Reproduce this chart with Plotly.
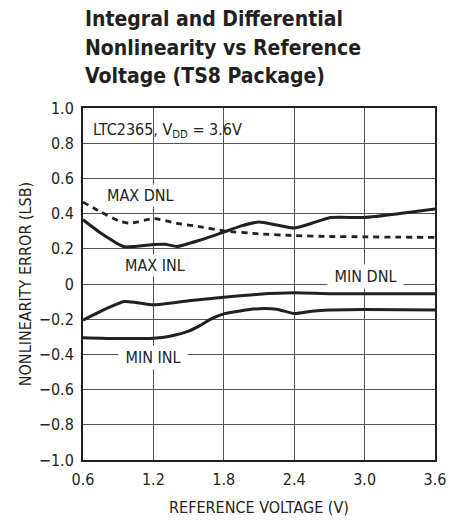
import plotly.graph_objects as go

# ---- data ----
max_dnl_x = [0.6, 0.75, 0.9, 1.0, 1.2, 1.4, 1.6, 1.8, 2.1, 2.4, 2.7, 3.0, 3.3, 3.6]
max_dnl_y = [0.465, 0.41, 0.36, 0.345, 0.372, 0.345, 0.325, 0.302, 0.285, 0.275, 0.27, 0.268, 0.266, 0.265]

max_inl_x = [0.6, 0.75, 0.95, 1.2, 1.3, 1.4, 1.6, 1.8, 1.95, 2.1, 2.25, 2.4, 2.55, 2.7, 3.0, 3.3, 3.6]
max_inl_y = [0.365, 0.29, 0.212, 0.225, 0.226, 0.213, 0.25, 0.295, 0.33, 0.352, 0.335, 0.318, 0.345, 0.377, 0.378, 0.40, 0.426]

min_dnl_x = [0.6, 0.8, 0.95, 1.05, 1.2, 1.5, 1.8, 2.1, 2.4, 2.7, 3.0, 3.6]
min_dnl_y = [-0.205, -0.14, -0.10, -0.105, -0.118, -0.095, -0.075, -0.058, -0.05, -0.055, -0.055, -0.056]

min_inl_x = [0.6, 0.9, 1.2, 1.35, 1.5, 1.6, 1.7, 1.8, 1.95, 2.1, 2.25, 2.4, 2.55, 2.7, 3.0, 3.6]
min_inl_y = [-0.305, -0.31, -0.308, -0.295, -0.268, -0.235, -0.195, -0.17, -0.152, -0.14, -0.143, -0.168, -0.155, -0.148, -0.145, -0.148]

x_tickvals = [0.6, 1.2, 1.8, 2.4, 3.0, 3.6]
x_ticktext = ["0.6", "1.2", "1.8", "2.4", "3.0", "3.6"]
y_tickvals = [1.0, 0.8, 0.6, 0.4, 0.2, 0, -0.2, -0.4, -0.6, -0.8, -1.0]
y_ticktext = ["1.0", "0.8", "0.6", "0.4", "0.2", "0", "\u22120.2", "\u22120.4", "\u22120.6", "\u22120.8", "\u22121.0"]

title_lines = ["Integral and Differential", "Nonlinearity vs Reference", "Voltage (TS8 Package)"]

FONT = "Liberation Sans Narrow, DejaVu Sans Condensed, Arial Narrow, sans-serif"
INK = "#231f20"

fig = go.Figure()
fig.add_trace(go.Scatter(x=max_dnl_x, y=max_dnl_y, mode="lines",
                         line=dict(color=INK, width=2.8, dash="6px,5px", shape="spline", smoothing=0.5)))
fig.add_trace(go.Scatter(x=max_inl_x, y=max_inl_y, mode="lines",
                         line=dict(color=INK, width=3, shape="spline", smoothing=0.5)))
fig.add_trace(go.Scatter(x=min_dnl_x, y=min_dnl_y, mode="lines",
                         line=dict(color=INK, width=3, shape="spline", smoothing=0.5)))
fig.add_trace(go.Scatter(x=min_inl_x, y=min_inl_y, mode="lines",
                         line=dict(color=INK, width=3, shape="spline", smoothing=0.5)))

lab = dict(font=dict(family=FONT, size=16, color=INK), showarrow=False, xref="x", yref="y")
fig.add_annotation(text="LTC2365, V<sub>DD</sub> = 3.6V", x=0.665, y=0.875, xanchor="left", **lab)
fig.add_annotation(text="MAX DNL", x=1.086, y=0.503, bgcolor="white", borderpad=1, **lab)
fig.add_annotation(text="MAX INL", x=1.21, y=0.105, bgcolor="white", borderpad=1, **lab)
fig.add_annotation(text="&nbsp;MIN DNL&nbsp;", x=3.01, y=0.043, bgcolor="white", borderpad=2, **lab)
fig.add_annotation(text="&nbsp;MIN INL&nbsp;", x=1.2, y=-0.42, bgcolor="white", borderpad=2, **lab)

# title lines
for i, t in enumerate(title_lines):
    yc = 19 + 28.5 * i  # pixel center of text box (page coords)
    fig.add_annotation(text="<b>%s</b>" % t, xref="paper", yref="paper",
                       x=0.0, xanchor="left", y=1 + (108 - yc) / 352, yanchor="middle",
                       showarrow=False, font=dict(family=FONT, size=21, color=INK))

axis_common = dict(showgrid=True, gridcolor="#555555", gridwidth=1,
                   showline=True, linecolor=INK, linewidth=2, mirror=True,
                   zeroline=False, ticks="", automargin=False,
                   tickfont=dict(family=FONT, size=16, color=INK))

fig.update_xaxes(range=[0.6, 3.6], tickvals=x_tickvals, ticktext=x_ticktext, ticklabelstandoff=4,
                 title=dict(text="REFERENCE VOLTAGE (V)", font=dict(family=FONT, size=16, color=INK), standoff=14),
                 **axis_common)
fig.update_yaxes(range=[-1.0, 1.0], tickvals=y_tickvals, ticktext=y_ticktext, ticklabelstandoff=4,
                 title=dict(text="NONLINEARITY ERROR (LSB)", font=dict(family=FONT, size=16, color=INK), standoff=3),
                 **axis_common)

fig.update_layout(width=462, height=521, showlegend=False,
                  margin=dict(l=83, r=27, t=108, b=61, autoexpand=False),
                  paper_bgcolor="white", plot_bgcolor="white")

# remove the default 8px page margin so the figure sits at the window origin
fig.write_html("out.html", config={"displayModeBar": False},
               post_script="document.body.style.margin='0';document.body.style.overflow='hidden';")
